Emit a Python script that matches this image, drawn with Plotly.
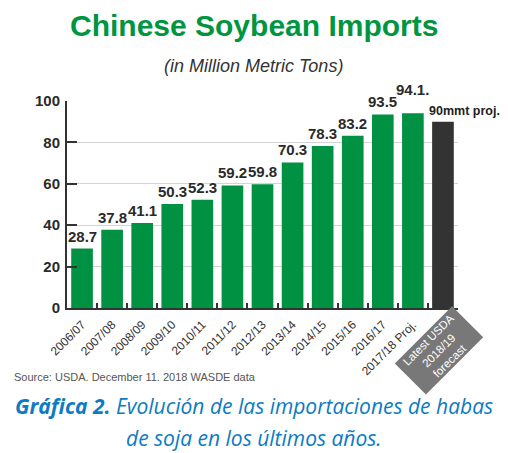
import plotly.graph_objects as go

categories = ["2006/07", "2007/08", "2008/09", "2009/10", "2010/11", "2011/12",
              "2012/13", "2013/14", "2014/15", "2015/16", "2016/17",
              "2017/18 Proj.", "Latest USDA 2018/19 forecast"]
values = [28.7, 37.8, 41.1, 50.3, 52.3, 59.2, 59.8, 70.3, 78.3, 83.2, 93.5, 94.1, 90]
value_labels = ["28.7", "37.8", "41.1", "50.3", "52.3", "59.2", "59.8", "70.3",
                "78.3", "83.2", "93.5", "94.1.", "90mmt proj."]
tick_labels = categories[:-1] + [""]
forecast_label = "Latest USDA<br>2018/19<br>forecast"
y_ticks = [0, 20, 40, 60, 80, 100]

GREEN = "#009143"
DARK = "#333333"
bar_colors = [GREEN] * (len(values) - 1) + [DARK]

SANS = "Liberation Sans, Arial, sans-serif"
CAPTION = "Open Sans, Lato, sans-serif"
BLUE = "#0b7bc4"

fig = go.Figure(go.Bar(
    x=categories, y=values, marker=dict(color=bar_colors, line=dict(width=0)),
    width=0.72, hoverinfo="skip"))

annotations = []
n = len(values)
for i, (c, v, lab) in enumerate(zip(categories, values, value_labels)):
    if i == n - 1:
        annotations.append(dict(x=c, y=v, xref="x", yref="y", text=lab, showarrow=False,
                                xanchor="left", yanchor="bottom", xshift=-16, yshift=2,
                                font=dict(family=SANS, size=12.5, color="#222", weight="bold")))
    else:
        annotations.append(dict(x=c, y=v, xref="x", yref="y", text=lab, showarrow=False,
                                xanchor="center", yanchor="bottom",
                                yshift=13 if i == n - 2 else 2,
                                font=dict(family=SANS, size=15, color="#2a2a2a", weight="bold")))

# forecast rotated label box
annotations.append(dict(x=0.951, y=-0.205, xref="paper", yref="paper", text=forecast_label,
                        showarrow=False, textangle=-45, xanchor="center", yanchor="middle",
                        bgcolor="#787878", font=dict(family=SANS, size=11.5, color="white"),
                        width=78, height=41, borderpad=1))

# title and texts
annotations += [
    dict(x=0.478, y=1.365, xref="paper", yref="paper", text="Chinese Soybean Imports",
         showarrow=False, xanchor="center", yanchor="middle",
         font=dict(family=SANS, size=30, color="#00953f", weight="bold")),
    dict(x=0.478, y=1.169, xref="paper", yref="paper", text="(in Million Metric Tons)",
         showarrow=False, xanchor="center", yanchor="middle",
         font=dict(family=SANS, size=18, color="#333", style="italic")),
    dict(x=-0.1407, y=-0.333, xref="paper", yref="paper",
         text="Source: USDA. December 11. 2018 WASDE data",
         showarrow=False, xanchor="left", yanchor="middle",
         font=dict(family=SANS, size=11, color="#555")),
    dict(x=0.478, y=-0.473, xref="paper", yref="paper",
         text="<b>Gráfica 2.</b> Evolución de las importaciones de habas",
         showarrow=False, xanchor="center", yanchor="middle",
         font=dict(family=CAPTION, size=21, color=BLUE, style="italic")),
    dict(x=0.478, y=-0.628, xref="paper", yref="paper",
         text="de soja en los últimos años.",
         showarrow=False, xanchor="center", yanchor="middle",
         font=dict(family=CAPTION, size=21, color=BLUE, style="italic")),
]

# page body has an 8px default margin: figure is 8px smaller and offset accordingly
fig.update_layout(
    width=500, height=445,
    margin=dict(l=59, r=50, t=93, b=145),
    paper_bgcolor="white", plot_bgcolor="white",
    showlegend=False,
    annotations=annotations,
    xaxis=dict(type="category", range=[-0.5, 12.5], tickvals=categories, ticktext=tick_labels,
               tickson="boundaries", ticks="inside", ticklen=5, tickcolor=DARK, tickwidth=1.5,
               tickangle=-45, tickfont=dict(family=SANS, size=12, color="#333"),
               ticklabelstandoff=3,
               showline=True, linecolor=DARK, linewidth=2, showgrid=False, fixedrange=True,
               automargin=False),
    yaxis=dict(range=[0, 100], tickvals=y_ticks, ticks="inside", ticklen=10, tickcolor=DARK,
               tickwidth=1.5, showline=True, linecolor=DARK, linewidth=2,
               showgrid=True, gridcolor="#d4d4d4", gridwidth=1, zeroline=False,
               tickfont=dict(family=SANS, size=15, color="#2a2a2a", weight="bold"),
               ticklabelstandoff=2, fixedrange=True, automargin=False),
)

fig.write_html("out.html")
